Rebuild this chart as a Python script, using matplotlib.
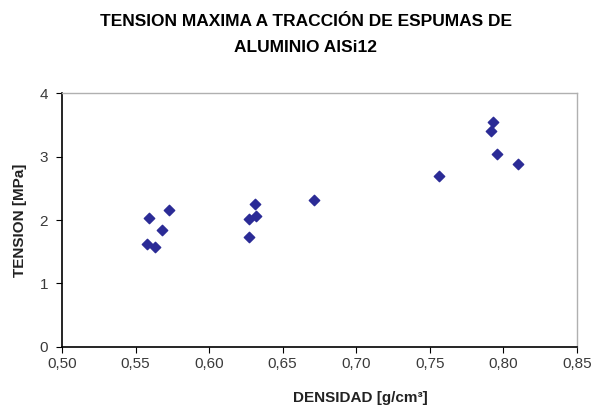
import matplotlib
matplotlib.use("Agg")
import matplotlib.pyplot as plt
from matplotlib.ticker import FuncFormatter

plt.rcParams['font.family'] = ['Liberation Sans', 'DejaVu Sans']

# densidad [g/cm3] y tension maxima [MPa]
densidad = [0.558, 0.563, 0.559, 0.568, 0.573, 0.627, 0.627, 0.632, 0.631,
            0.671, 0.756, 0.793, 0.792, 0.796, 0.810]
tension = [1.62, 1.58, 2.03, 1.85, 2.16, 1.73, 2.02, 2.06, 2.26,
           2.31, 2.70, 3.54, 3.40, 3.04, 2.88]

fig = plt.figure(figsize=(6.11, 4.12), dpi=100)
ax = fig.add_axes([0.1015, 0.158, 0.8425, 0.616])

ax.scatter(densidad, tension, marker='D', s=28, color='#2b2b96', zorder=3)

ax.set_xlim(0.50, 0.85)
ax.set_ylim(0, 4)
ax.set_xticks([0.50, 0.55, 0.60, 0.65, 0.70, 0.75, 0.80, 0.85])
ax.set_yticks([0, 1, 2, 3, 4])
ax.xaxis.set_major_formatter(FuncFormatter(lambda v, p: f"{v:.2f}".replace('.', ',')))

for s in ['top', 'right']:
    ax.spines[s].set_color('#b0b0b0')
    ax.spines[s].set_linewidth(1.0)
for s in ['left', 'bottom']:
    ax.spines[s].set_color('black')
    ax.spines[s].set_linewidth(1.2)

ax.tick_params(axis='both', direction='out', length=4, labelsize=11,
               colors='black', labelcolor='#3a3a3a')
ax.tick_params(axis='y', pad=6)

ax.set_xlabel("DENSIDAD [g/cm³]", fontsize=11, fontweight='bold', color='#222222')
ax.xaxis.set_label_coords(0.58, -0.175)
ax.set_ylabel("TENSION [MPa]", fontsize=11, fontweight='bold', color='#222222')
ax.yaxis.set_label_coords(-0.068, 0.5)

fig.text(0.5, 1 - 22 / 412, "TENSION MAXIMA A TRACCIÓN DE ESPUMAS DE",
         ha='center', va='center', fontsize=12.5, fontweight='bold')
fig.text(0.5, 1 - 48 / 412, "ALUMINIO AlSi12",
         ha='center', va='center', fontsize=12.5, fontweight='bold')

fig.savefig("out.png", dpi=100)
